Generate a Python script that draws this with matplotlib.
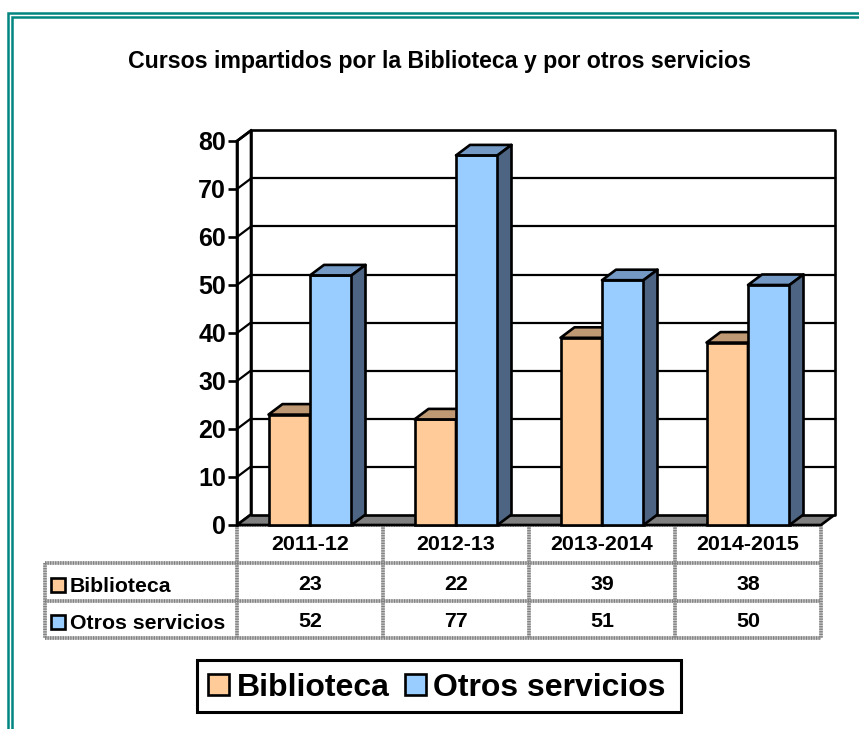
import matplotlib
matplotlib.use("Agg")
import matplotlib.pyplot as plt
from matplotlib.patches import Polygon, Rectangle

plt.rcParams["font.family"] = ["Liberation Sans", "DejaVu Sans"]

title = "Cursos impartidos por la Biblioteca y por otros servicios"
years = ["2011-12", "2012-13", "2013-2014", "2014-2015"]
biblioteca = [23, 22, 39, 38]
otros = [52, 77, 51, 50]
series_names = ["Biblioteca", "Otros servicios"]
yticks = [0, 10, 20, 30, 40, 50, 60, 70, 80]

W, H = 859, 729
PEACH = "#FFCC99"
PEACH_TOP = "#BF9973"
BLUE = "#99CCFF"
BLUE_TOP = "#7399C4"
BLUE_SIDE = "#4D6482"
TEAL = "#008580"
EDGE = "black"
LW = 1.9

fig = plt.figure(figsize=(W / 100, H / 100), dpi=100, facecolor="white")

# overlay in pixels for frame, table and legend
bg = fig.add_axes([0, 0, 1, 1])
bg.set_xlim(0, W)
bg.set_ylim(H, 0)
bg.axis("off")

# main axes = front plane of the 3d box
x0, x1 = 237, 821
y0, y80 = 525, 141
ax = fig.add_axes([x0 / W, 1 - y0 / H, (x1 - x0) / W, (y0 - y80) / H])
ax.set_xlim(-0.5, 3.5)
ax.set_ylim(0, 80)
ax.patch.set_alpha(0)
for s in ax.spines.values():
    s.set_visible(False)

# depth of the box in data units
dx = 14 / 146
dy = 10.5 / 4.8
bar_w = 41.5 / 146


def poly(pts, fc, z=2):
    ax.add_patch(Polygon(pts, closed=True, facecolor=fc, edgecolor=EDGE,
                         linewidth=LW, joinstyle="round", clip_on=False, zorder=z))


# walls and floor
left, right = -0.5, 3.5
poly([(left, 0), (left + dx, dy), (left + dx, 80 + dy), (left, 80)], "white", 1)
poly([(left, 0), (right, 0), (right + dx, dy), (left + dx, dy)], "#808080", 1)
poly([(left + dx, dy), (right + dx, dy), (right + dx, 80 + dy), (left + dx, 80 + dy)], "white", 1)
for v in yticks[1:-1]:
    ax.plot([left + dx, right + dx], [v + dy, v + dy], color=EDGE, lw=1.6, zorder=1.5, clip_on=False)
    ax.plot([left, left + dx], [v, v + dy], color=EDGE, lw=1.6, zorder=1.5, clip_on=False)
ax.plot([left, left + dx], [80, 80 + dy], color=EDGE, lw=LW, zorder=1.5, clip_on=False)


def bar3d(x, v, fc, top, side, z):
    ax.bar(x, v, width=bar_w, color=fc, edgecolor=EDGE, linewidth=LW, align="edge", zorder=z, clip_on=False)
    poly([(x, v), (x + bar_w, v), (x + bar_w + dx, v + dy), (x + dx, v + dy)], top, z)
    poly([(x + bar_w, 0), (x + bar_w + dx, dy), (x + bar_w + dx, v + dy), (x + bar_w, v)], side, z)


for i in range(len(years)):
    bar3d(i - bar_w, biblioteca[i], PEACH, PEACH_TOP, "#80664C", 3)
    bar3d(i, otros[i], BLUE, BLUE_TOP, BLUE_SIDE, 4)

ax.set_xticks([])
ax.set_yticks(yticks)
ax.set_yticklabels([str(v) for v in yticks], fontsize=18, fontweight="bold")
ax.spines["left"].set_visible(True)
ax.spines["left"].set_linewidth(LW)
ax.tick_params(axis="y", length=6.5, width=LW, pad=1.5)

# title
bg.text(440, 61, title, ha="center", va="center", fontsize=16.7, fontweight="bold")

# page frame
for x, y in [(8, 13), (12, 17)]:
    bg.plot([x, x, W + 5], [H + 5, y, y], color=TEAL, lw=1.8, solid_joinstyle="miter")

# data table
col_x = [x0 + 146 * i for i in range(5)]
row_y = [525, 563, 601, 638]
head_x = 45


def tline(xs, ys):
    bg.plot(xs, ys, color="#c4c4c4", lw=2.6, solid_capstyle="butt", zorder=2)
    bg.plot(xs, ys, color="#808080", lw=2.6, linestyle=(0, (0.35, 0.35)), dash_capstyle="butt", zorder=2.1)


tline([col_x[0], col_x[-1]], [row_y[0], row_y[0]])
for y in row_y[1:]:
    tline([head_x, col_x[-1]], [y, y])
tline([head_x, head_x], [row_y[1], row_y[-1]])
for x in col_x:
    tline([x, x], [row_y[0], row_y[-1]])

for i in range(4):
    cx = (col_x[i] + col_x[i + 1]) / 2
    bg.text(cx, 545, years[i], ha="center", va="center", fontsize=15.4, fontweight="bold")
    bg.text(cx, 584.5, str(biblioteca[i]), ha="center", va="center", fontsize=15.4, fontweight="bold")
    bg.text(cx, 621.5, str(otros[i]), ha="center", va="center", fontsize=15.4, fontweight="bold")

for y, name, col in [(585, series_names[0], PEACH), (622, series_names[1], BLUE)]:
    bg.add_patch(Rectangle((51, y - 7), 14, 14, facecolor=col, edgecolor=EDGE, lw=LW, zorder=3))
    bg.text(70, y + 1.5, name, ha="left", va="center", fontsize=15.3, fontweight="bold")

# legend
bg.add_patch(Rectangle((197, 660), 484, 52, facecolor="white", edgecolor=EDGE, lw=2.2))
for xs, xt, name, col in [(208, 237, series_names[0], PEACH), (405, 433, series_names[1], BLUE)]:
    bg.add_patch(Rectangle((xs, 674), 21, 21, facecolor=col, edgecolor=EDGE, lw=LW))
    bg.text(xt, 688, name, ha="left", va="center", fontsize=23, fontweight="bold")

fig.savefig("out.png", dpi=100)
